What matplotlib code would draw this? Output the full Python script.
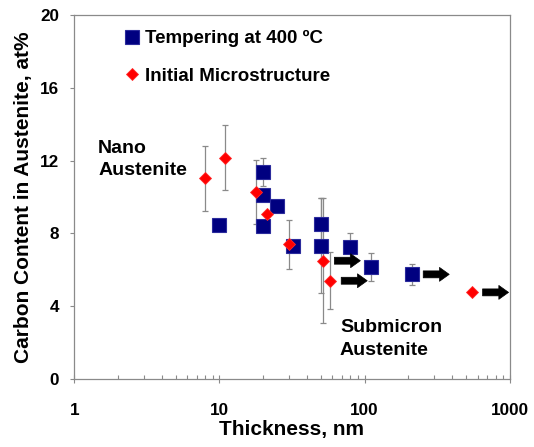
import matplotlib
matplotlib.use("Agg")
import matplotlib.pyplot as plt
from matplotlib.ticker import LogLocator, NullFormatter, FixedLocator
from matplotlib.transforms import offset_copy
from matplotlib.lines import Line2D

plt.rcParams['font.family'] = ['Liberation Sans', 'DejaVu Sans']
plt.rcParams['font.weight'] = 'bold'

# ---- data ----
blue_label = "Tempering at 400 ºC"
blue_x = [10, 20, 20, 25, 20, 32, 50, 50, 80, 110, 213]
blue_y = [8.45, 11.36, 10.1, 9.5, 8.41, 7.32, 8.5, 7.32, 7.27, 6.14, 5.75]
blue_err = [0.3, 0.78, 0.3, 0.3, 0.3, 0.3, 1.45, 2.6, 0.73, 0.78, 0.57]

red_label = "Initial Microstructure"
red_x = [8, 11, 18, 21.4, 30, 52, 58, 546]
red_y = [11.03, 12.16, 10.29, 9.05, 7.4, 6.5, 5.4, 4.76]
red_err = [1.8, 1.8, 1.75, 0.0, 1.33, 3.42, 1.56, 0.0]

# points that carry a "greater than" arrow
red_arrow_idx = [5, 6, 7]
blue_arrow_idx = [10]

x_ticks = [1, 10, 100, 1000]
x_ticklabels = ["1", "10", "100", "1000"]
y_ticks = [0, 4, 8, 12, 16, 20]
x_label = "Thickness, nm"
y_label = "Carbon Content in Austenite, at%"
note_nano = "Nano\nAustenite"
note_sub = "Submicron\nAustenite"

# ---- figure ----
fig = plt.figure(figsize=(5.34, 4.47), dpi=100)
ax = fig.add_axes([0.1391, 0.1521, 0.8154, 0.8143])

gray = '#8a8a8a'
navy = '#000080'
red = '#ff0000'

ax.errorbar(blue_x, blue_y, yerr=blue_err, fmt='none', ecolor=gray,
            elinewidth=0.9, capsize=2.2, capthick=0.9, zorder=2)
ax.errorbar(red_x, red_y, yerr=red_err, fmt='none', ecolor=gray,
            elinewidth=0.9, capsize=2.2, capthick=0.9, zorder=2)
ax.plot(blue_x, blue_y, 's', color=navy, markersize=10.3,
        markeredgecolor='#2b2b9c', markeredgewidth=0.8, zorder=3)
ax.plot(red_x, red_y, 'D', color=red, markersize=6.3,
        markeredgecolor='#ff2a2a', markeredgewidth=0.6, zorder=4)

# arrows to the right of selected points
arrow_pts = [(red_x[i], red_y[i]) for i in red_arrow_idx] + \
            [(blue_x[i], blue_y[i]) for i in blue_arrow_idx]
t_start = offset_copy(ax.transData, fig=fig, x=11, y=0, units='dots')
t_end = offset_copy(ax.transData, fig=fig, x=37, y=0, units='dots')
for (px, py) in arrow_pts:
    ax.annotate('', xy=(px, py), xycoords=t_end,
                xytext=(px, py), textcoords=t_start,
                arrowprops=dict(arrowstyle='simple,head_length=0.7,head_width=1.0,tail_width=0.5',
                                fc='black', ec='black', lw=0.5,
                                mutation_scale=10, shrinkA=0, shrinkB=0),
                zorder=5, annotation_clip=False)

ax.set_xscale('log')
ax.set_xlim(1, 1000)
ax.set_ylim(0, 20)

ax.xaxis.set_major_locator(FixedLocator(x_ticks))
ax.set_xticklabels(x_ticklabels)
ax.xaxis.set_minor_locator(LogLocator(base=10, subs=range(2, 10)))
ax.xaxis.set_minor_formatter(NullFormatter())
ax.set_yticks(y_ticks)
ax.set_yticklabels([str(v) for v in y_ticks])

ax.tick_params(axis='x', which='major', direction='inout', length=6, width=0.8,
               color=gray, labelsize=12.3, pad=14)
ax.tick_params(axis='x', which='minor', direction='in', length=3, width=0.8,
               color=gray)
ax.tick_params(axis='y', which='major', direction='out', length=3, width=0.8,
               color=gray, labelsize=12.3, pad=8)

for s in ax.spines.values():
    s.set_color(gray)
    s.set_linewidth(0.9)

ax.set_xlabel(x_label, fontsize=15, fontweight='bold', labelpad=2)
ax.set_ylabel(y_label, fontsize=15, fontweight='bold', labelpad=5)

ax.text(0.055, 0.658, note_nano, transform=ax.transAxes, fontsize=14,
        fontweight='bold', va='top', ha='left', linespacing=1.45)
ax.text(0.610, 0.164, note_sub, transform=ax.transAxes, fontsize=14,
        fontweight='bold', va='top', ha='left', linespacing=1.45)

handles = [Line2D([], [], ls='none', marker='s', color=navy, markersize=9.5,
                  markeredgecolor='#2b2b9c', markeredgewidth=0.8),
           Line2D([], [], ls='none', marker='D', color=red, markersize=6.0,
                  markeredgecolor='#ff2a2a', markeredgewidth=0.6)]
ax.legend(handles, [blue_label, red_label], loc='upper left',
          bbox_to_anchor=(0.116, 0.959), frameon=False, borderpad=0,
          borderaxespad=0, handlelength=0.8, handletextpad=0.3,
          labelspacing=1.11, prop={'size': 13.5, 'weight': 'bold'})

fig.savefig('out.png', dpi=100)
